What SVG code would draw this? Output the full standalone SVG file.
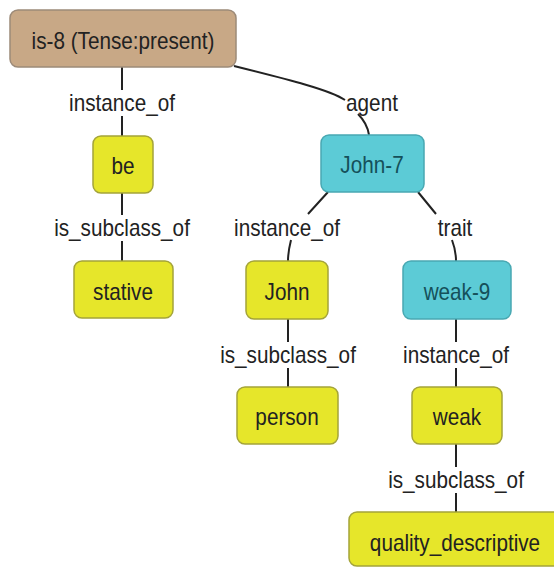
<svg xmlns="http://www.w3.org/2000/svg" width="554" height="567" viewBox="0 0 554 567">
<style>
text{font-family:"Liberation Sans",Arial,sans-serif;font-size:23px;text-anchor:middle;dominant-baseline:central;fill:#222}
.tan{fill:#c8a886;stroke:#9c8a78;stroke-width:1.5}
.yel{fill:#e6e62a;stroke:#a4a43a;stroke-width:1.5}
.cy{fill:#5ccbd6;stroke:#48a8b2;stroke-width:1.5}
.cyt{fill:#15505a}
.e{fill:none;stroke:#222;stroke-width:2}
</style>
<rect width="554" height="567" fill="#fff"/>
<g id="connectors">
<path class="e" d="M122 67 V90 M122 116 V136"/>
<path class="e" d="M122 193 V215 M122 241 V261"/>
<path class="e" d="M234 66 C290 80 330 90 345 100 M358 114 C364 120 368 128 369 135"/>
<path class="e" d="M328 192 L308 214 M291 240 C289 248 288 254 288 261"/>
<path class="e" d="M288 319 V342 M288 368 V387"/>
<path class="e" d="M418 192 L436 214 M452 240 C455 248 456 254 456 261"/>
<path class="e" d="M456 319 V342 M456 368 V387"/>
<path class="e" d="M456 444 V467 M456 493 V512"/>
<text transform="translate(122,103) scale(0.9,1)">instance_of</text>
<text transform="translate(122,228) scale(0.9,1)">is_subclass_of</text>
<text transform="translate(372,103) scale(0.9,1)">agent</text>
<text transform="translate(287,228) scale(0.9,1)">instance_of</text>
<text transform="translate(455,228) scale(0.9,1)">trait</text>
<text transform="translate(288,355) scale(0.9,1)">is_subclass_of</text>
<text transform="translate(456,355) scale(0.9,1)">instance_of</text>
<text transform="translate(456,480) scale(0.9,1)">is_subclass_of</text>
</g>
<g id="is-8"><rect class="tan" x="10" y="10" width="226" height="57" rx="8"/><text transform="translate(123,41) scale(0.9,1)">is-8 (Tense:present)</text></g>
<g id="be"><rect class="yel" x="93" y="136" width="60" height="57" rx="8"/><text transform="translate(123,166) scale(0.9,1)">be</text></g>
<g id="stative"><rect class="yel" x="74" y="261" width="99" height="57" rx="8"/><text transform="translate(123,292) scale(0.9,1)">stative</text></g>
<g id="John-7"><rect class="cy" x="321" y="135" width="103" height="57" rx="8"/><text class="cyt" transform="translate(372,165) scale(0.9,1)">John-7</text></g>
<g id="John"><rect class="yel" x="246" y="261" width="82" height="58" rx="8"/><text transform="translate(287,292) scale(0.9,1)">John</text></g>
<g id="weak-9"><rect class="cy" x="403" y="261" width="108" height="58" rx="8"/><text class="cyt" transform="translate(457,292) scale(0.9,1)">weak-9</text></g>
<g id="person"><rect class="yel" x="237" y="387" width="101" height="57" rx="8"/><text transform="translate(287,417) scale(0.9,1)">person</text></g>
<g id="weak"><rect class="yel" x="412" y="387" width="90" height="57" rx="8"/><text transform="translate(457,417) scale(0.9,1)">weak</text></g>
<g id="quality_descriptive"><rect class="yel" x="349" y="512" width="212" height="54" rx="8"/><text transform="translate(455,543) scale(0.9,1)">quality_descriptive</text></g>
</svg>
